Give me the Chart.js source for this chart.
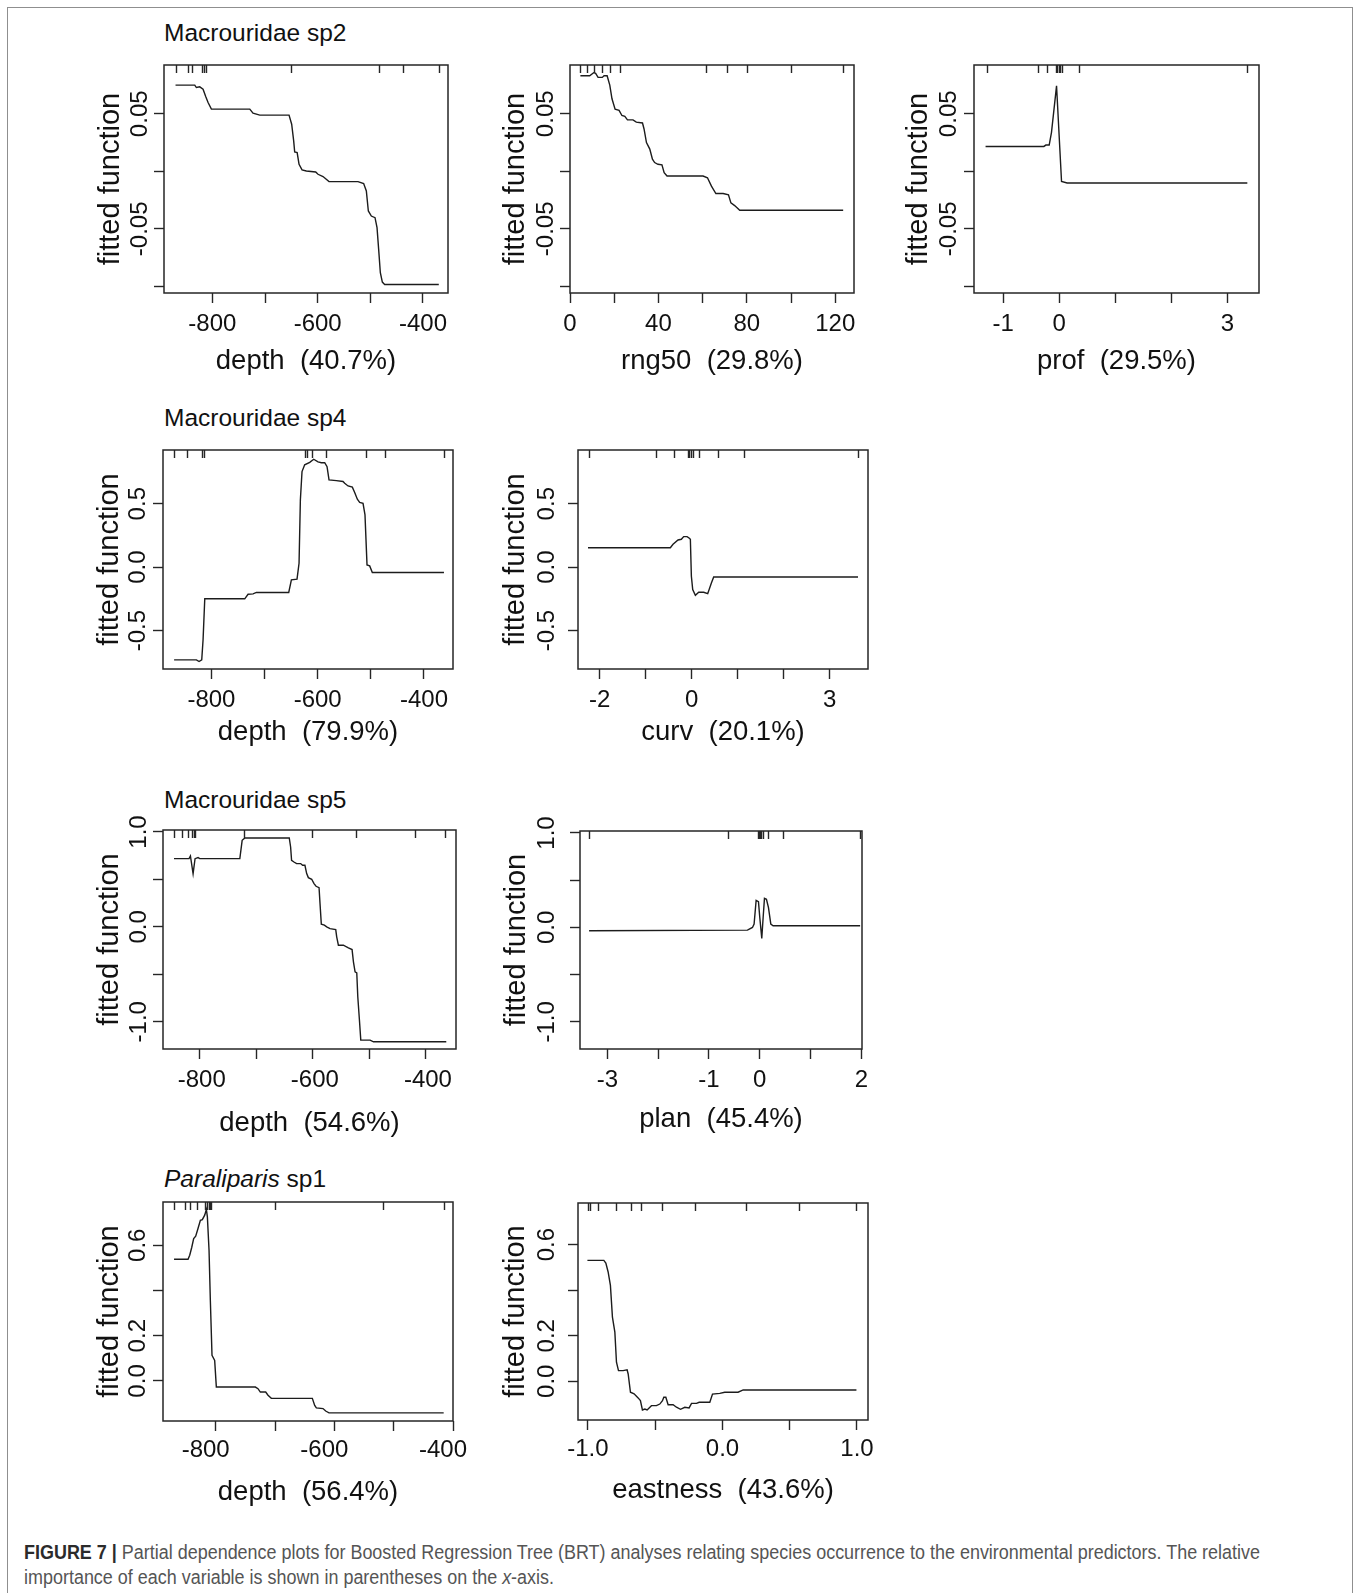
<!DOCTYPE html>
<html>
<head>
<meta charset="utf-8">
<script src="https://cdn.jsdelivr.net/npm/chart.js@4.4.1/dist/chart.umd.min.js"></script>
<style>
  html, body { margin: 0; padding: 0; background: #fff; }
  body { width: 1360px; height: 1593px; position: relative; overflow: hidden;
         font-family: 'Liberation Sans', Arial, Helvetica, sans-serif; }
  canvas { position: absolute; left: 0; top: 0; }
  .frame { position: absolute; left: 7px; top: 7px; width: 1346px; height: 1620px;
           border: 1.5px solid #8f8f8f; box-sizing: border-box; }
  .ptitle { position: absolute; font-size: 24.5px; line-height: 24px; color: #111; white-space: pre; }
  .cap { position: absolute; left: 24px; font-size: 20px; line-height: 20px; color: #555;
         white-space: pre; transform-origin: 0 0; }
  .cap b { color: #2b2b2b; }
</style>
</head>
<body>
<div class="frame"></div>
<div class="ptitle" style="left:164px;top:21px">Macrouridae sp2</div>
<div class="ptitle" style="left:164px;top:406px">Macrouridae sp4</div>
<div class="ptitle" style="left:164px;top:788px">Macrouridae sp5</div>
<div class="ptitle" style="left:164px;top:1167px"><i>Paraliparis</i> sp1</div>
<div class="cap" id="cap1" style="top:1542px"><b>FIGURE 7 |</b> Partial dependence plots for Boosted Regression Tree (BRT) analyses relating species occurrence to the environmental predictors. The relative</div>
<div class="cap" id="cap2" style="top:1567px">importance of each variable is shown in parentheses on the <i>x</i>-axis.</div>

<script>
// ---------- fitted partial-dependence curves ----------
const sp2DepthX = [-870,-833.5,-830.4,-824,-817.7,-812.7,-808.2,-801.9,-729,-722.8,-710,-654.4,-649.4,-645.6,-643.7,-639,-635.4,-629.7,-621.5,-603.8,-599.4,-589.9,-578.5,-523.4,-512.7,-507.6,-503.8,-498.1,-491.1,-487.3,-484.2,-481,-477.2,-472.8,-370];
const sp2DepthY = [0.0749,0.0749,0.0728,0.0734,0.0714,0.065,0.0598,0.054,0.054,0.0505,0.0488,0.0488,0.0409,0.0264,0.0168,0.0163,0.0061,0.0012,0.0003,-0.0006,-0.0026,-0.0046,-0.009,-0.009,-0.0107,-0.0171,-0.0345,-0.0389,-0.0403,-0.049,-0.0679,-0.0882,-0.0963,-0.0984,-0.0984];
const sp2DepthRug = [-870,-847,-838,-820,-816,-813,-651,-484,-438,-370];

const sp2Rng50X = [4.7,8.9,10.7,11.6,12.7,14.6,15.4,16.8,18.0,19.0,20.4,22.2,23.5,24.8,26.0,28.5,30.0,32.8,33.5,34.6,36.1,37.3,38.3,39.8,41.6,42.6,43.9,60.2,62.2,64.0,66.0,69.3,71.7,72.8,74.5,76.8,123.6];
const sp2Rng50Y = [0.083,0.083,0.0857,0.0851,0.0816,0.0816,0.083,0.083,0.0749,0.063,0.054,0.053,0.0485,0.0477,0.0447,0.0447,0.0427,0.042,0.0368,0.025,0.0193,0.0105,0.0076,0.0061,0.0056,-0.0012,-0.0041,-0.0041,-0.0056,-0.0129,-0.0193,-0.0193,-0.0205,-0.0275,-0.0298,-0.0339,-0.0339];
const sp2Rng50Rug = [4.7,7.5,11,14.6,18,22.5,61.5,71,80,100,123.6];

const sp2ProfX = [-1.312,-0.273,-0.237,-0.178,-0.137,-0.047,0.042,0.142,3.353];
const sp2ProfY = [0.0216,0.0216,0.0228,0.0228,0.0339,0.0743,-0.0088,-0.0102,-0.0102];
const sp2ProfRug = [-1.29,-0.37,-0.21,-0.065,-0.03,-0.012,0.012,0.042,0.35,3.35];

const sp4DepthX = [-870.2,-828.2,-823.2,-818.2,-815.7,-812.5,-737.3,-731,-721.6,-715.4,-654.5,-649.5,-638.9,-635.1,-632.6,-629.5,-624.5,-615,-607.5,-599.4,-593.1,-586.8,-582.4,-578.7,-564.9,-552.4,-549.2,-542.9,-534.8,-530.4,-525.4,-521,-514.7,-511,-507.2,-502.2,-497.2,-362.4];
const sp4DepthY = [-0.730,-0.730,-0.743,-0.730,-0.572,-0.249,-0.249,-0.213,-0.21,-0.199,-0.199,-0.1,-0.094,0.031,0.530,0.753,0.806,0.826,0.850,0.829,0.823,0.823,0.792,0.687,0.682,0.675,0.661,0.640,0.630,0.588,0.535,0.511,0.503,0.412,0.018,0.010,-0.042,-0.042];
const sp4DepthRug = [-870,-846,-817.6,-814,-624.5,-621,-610,-585,-508.5,-474,-362.4];

const sp4CurvX = [-2.254,-0.464,-0.406,-0.297,-0.225,-0.174,-0.101,-0.058,-0.029,-0.007,0.022,0.08,0.152,0.261,0.348,0.428,0.478,3.616];
const sp4CurvY = [0.153,0.153,0.180,0.214,0.220,0.241,0.241,0.230,0.220,-0.071,-0.177,-0.222,-0.198,-0.198,-0.209,-0.124,-0.077,-0.077];
const sp4CurvRug = [-2.24,-0.77,-0.38,-0.087,-0.05,-0.014,0.022,0.152,0.572,1.13,3.616];

const sp5DepthX = [-845.5,-818.9,-816.5,-811.8,-808.3,-803,-800,-729.1,-725,-720.2,-641.7,-639.3,-637.6,-633.4,-628.7,-621.6,-618.1,-614,-610.9,-607.9,-602,-597.9,-594.3,-589,-587.3,-585,-579.6,-575.5,-569.6,-559.5,-557.8,-554.8,-546,-537.1,-530.6,-528.2,-525.3,-522.3,-520.5,-517.6,-515.2,-498.7,-492.7,-364];
const sp5DepthY = [0.719,0.719,0.747,0.561,0.719,0.730,0.719,0.719,0.912,0.937,0.937,0.842,0.702,0.684,0.667,0.667,0.649,0.649,0.561,0.519,0.502,0.456,0.428,0.414,0.246,0.028,0.018,0.0,-0.018,-0.028,-0.105,-0.193,-0.193,-0.221,-0.239,-0.368,-0.474,-0.484,-0.737,-0.982,-1.193,-1.193,-1.211,-1.211];
const sp5DepthRug = [-845.5,-831,-821.5,-813,-810.6,-808.3,-722,-601,-523.5,-419,-366];

const sp5PlanX = [-3.36,-0.243,-0.144,-0.112,-0.072,-0.026,0.0,0.039,0.066,0.092,0.131,0.171,0.217,0.262,1.975];
const sp5PlanY = [-0.035,-0.028,0.0,0.035,0.287,0.273,0.105,-0.116,0.105,0.308,0.298,0.21,0.035,0.018,0.018];
const sp5PlanRug = [-3.36,-0.617,-0.026,-0.013,0.0,0.013,0.026,0.066,0.171,0.459,1.975];

const parDepthX = [-870.2,-846.6,-843.8,-840.4,-837.1,-833.7,-829.8,-825.8,-822.5,-818.5,-815.7,-814,-811.2,-809,-806.2,-801.7,-798.9,-733.1,-728.7,-724.7,-715.7,-711.8,-706.2,-637.1,-633.1,-630.3,-619.1,-614.6,-609,-415.7];
const parDepthY = [0.538,0.538,0.556,0.590,0.629,0.640,0.674,0.710,0.713,0.733,0.758,0.725,0.578,0.357,0.113,0.091,-0.027,-0.027,-0.034,-0.049,-0.049,-0.063,-0.077,-0.077,-0.108,-0.119,-0.122,-0.133,-0.141,-0.141];
const parDepthRug = [-870,-851,-843.8,-831.5,-818.5,-814,-812,-810,-808.4,-700.6,-518,-416];

const parEastX = [-1.004,-0.882,-0.867,-0.850,-0.833,-0.818,-0.800,-0.788,-0.773,-0.739,-0.709,-0.701,-0.684,-0.657,-0.627,-0.610,-0.595,-0.577,-0.560,-0.528,-0.491,-0.466,-0.446,-0.436,-0.421,-0.404,-0.367,-0.342,-0.312,-0.280,-0.248,-0.230,-0.193,-0.173,-0.094,-0.074,-0.020,0.017,0.116,0.154,0.996];
const parEastY = [0.531,0.531,0.519,0.480,0.421,0.282,0.216,0.084,0.047,0.047,0.050,0.032,-0.048,-0.055,-0.073,-0.085,-0.126,-0.122,-0.126,-0.107,-0.107,-0.100,-0.085,-0.070,-0.070,-0.103,-0.103,-0.114,-0.123,-0.114,-0.117,-0.097,-0.097,-0.092,-0.092,-0.056,-0.053,-0.048,-0.048,-0.038,-0.038];
const parEastRug = [-1.0,-0.988,-0.924,-0.793,-0.677,-0.602,-0.453,-0.206,0.173,0.570,0.996];

// ---------- axis ticks and their labels ----------
const depthTicks = [-800,-700,-600,-500,-400];
const depthLabels = ['-800','','-600','','-400'];
const rng50Ticks = [0,20,40,60,80,100,120];
const rng50Labels = ['0','','40','','80','','120'];
const profTicks = [-1,0,1,2,3];
const profLabels = ['-1','0','','','3'];
const curvTicks = [-2,-1,0,1,2,3];
const curvLabels = ['-2','','0','','','3'];
const planTicks = [-3,-2,-1,0,1,2];
const planLabels = ['-3','','-1','0','','2'];
const eastTicks = [-1,-0.5,0,0.5,1];
const eastLabels = ['-1.0','','0.0','','1.0'];

const ySmallTicks = [0.05,0,-0.05,-0.1];
const ySmallLabels = ['0.05','','-0.05',''];
const yHalfTicks = [0.5,0,-0.5];
const yHalfLabels = ['0.5','0.0','-0.5'];
const yOneTicks = [1,0.5,0,-0.5,-1];
const yOneLabels = ['1.0','','0.0','','-1.0'];
const yPointTicks = [0.6,0.4,0.2,0.0];
const yPointLabels = ['0.6','','0.2','0.0'];

// ---------- panel layout ----------
const FONT = "'Liberation Sans', Arial, Helvetica, sans-serif";
const PAGE_W = 1360, PAGE_H = 1593;
const YW = 100, XH = 100;            // reserved widths of the y / x scale boxes
const TICK_PX = 24, XTITLE_PX = 27.5, YTITLE_PX = 29;

// tOff: baseline of the x title below the frame; lblPad: gap before x tick labels;
// yOff / ytOff: distance of y tick labels / y title from the frame
const panels = [
  { box:[164,65,448,293],   xr:[-891.9,-352.5], yr:[-0.1058,0.0924], x:sp2DepthX, y:sp2DepthY, rug:sp2DepthRug,
    xt:depthTicks, xl:depthLabels, yt:ySmallTicks, yl:ySmallLabels, title:'depth  (40.7%)',
    tOff:78, lblPad:7, lblShift:0, yOff:24, ytOff:53 },
  { box:[570,65,854,293],   xr:[0,128.5], yr:[-0.1058,0.0924], x:sp2Rng50X, y:sp2Rng50Y, rug:sp2Rng50Rug,
    xt:rng50Ticks, xl:rng50Labels, yt:ySmallTicks, yl:ySmallLabels, title:'rng50  (29.8%)',
    tOff:78, lblPad:7, lblShift:0, yOff:24, ytOff:54 },
  { box:[974,65,1259,293],  xr:[-1.518,3.561], yr:[-0.1058,0.0924], x:sp2ProfX, y:sp2ProfY, rug:sp2ProfRug,
    xt:profTicks, xl:profLabels, yt:ySmallTicks, yl:ySmallLabels, title:'prof  (29.5%)',
    tOff:78, lblPad:7, lblShift:0, yOff:25, ytOff:55 },
  { box:[163,450,453,669],  xr:[-891.1,-345.4], yr:[-0.802,0.923], x:sp4DepthX, y:sp4DepthY, rug:sp4DepthRug,
    xt:depthTicks, xl:depthLabels, yt:yHalfTicks, yl:yHalfLabels, title:'depth  (79.9%)',
    tOff:73, lblPad:7, lblShift:0, yOff:25, ytOff:53 },
  { box:[578,450,868,669],  xr:[-2.472,3.833], yr:[-0.802,0.923], x:sp4CurvX, y:sp4CurvY, rug:sp4CurvRug,
    xt:curvTicks, xl:curvLabels, yt:yHalfTicks, yl:yHalfLabels, title:'curv  (20.1%)',
    tOff:73, lblPad:7, lblShift:0, yOff:31, ytOff:62 },
  { box:[163,830,456,1049], xr:[-865,-346.8], yr:[-1.287,1.021], x:sp5DepthX, y:sp5DepthY, rug:sp5DepthRug,
    xt:depthTicks, xl:depthLabels, yt:yOneTicks, yl:yOneLabels, title:'depth  (54.6%)',
    tOff:84, lblPad:7, lblShift:2, yOff:24, ytOff:53 },
  { box:[580,831,862,1049], xr:[-3.539,2.012], yr:[-1.287,1.021], x:sp5PlanX, y:sp5PlanY, rug:sp5PlanRug,
    xt:planTicks, xl:planLabels, yt:yOneTicks, yl:yOneLabels, title:'plan  (45.4%)',
    tOff:80, lblPad:7, lblShift:0, yOff:33, ytOff:63 },
  { box:[163,1202,453,1421], xr:[-888.8,-400], yr:[-0.177,0.791], x:parDepthX, y:parDepthY, rug:parDepthRug,
    xt:depthTicks, xl:depthLabels, yt:yPointTicks, yl:yPointLabels, title:'depth  (56.4%)',
    tOff:81, lblPad:5, lblShift:-10, yOff:25, ytOff:53 },
  { box:[578,1203,868,1420], xr:[-1.074,1.082], yr:[-0.170,0.783], x:parEastX, y:parEastY, rug:parEastRug,
    xt:eastTicks, xl:eastLabels, yt:yPointTicks, yl:yPointLabels, title:'eastness  (43.6%)',
    tOff:80, lblPad:5, lblShift:0, yOff:31, ytOff:62 }
];

// Plot frame, rug marks along the top edge and upright y tick labels
const framePlugin = {
  id: 'frameRug',
  afterDraw(chart, args, opts) {
    const { ctx, chartArea: a, scales } = chart;
    const p = opts.panel;
    ctx.save();
    ctx.strokeStyle = '#262626';
    ctx.lineWidth = 1.4;
    ctx.beginPath();
    for (const v of p.rug) {
      const px = Math.round(scales.x.getPixelForValue(v)) + 0.5;
      ctx.moveTo(px, a.top);
      ctx.lineTo(px, a.top + 8);
    }
    ctx.stroke();
    ctx.lineWidth = 1.5;
    ctx.strokeRect(a.left, a.top, a.right - a.left, a.bottom - a.top);

    ctx.fillStyle = '#111';
    ctx.font = TICK_PX + 'px ' + FONT;
    ctx.textAlign = 'center';
    ctx.textBaseline = 'middle';
    p.yt.forEach((v, i) => {
      if (!p.yl[i]) return;
      const py = scales.y.getPixelForValue(v);
      ctx.save();
      ctx.translate(a.left - p.yOff, py);
      ctx.rotate(-Math.PI / 2);
      ctx.fillText(p.yl[i], 0, 0);
      ctx.restore();
    });
    ctx.restore();
  }
};

function makePanel(p) {
  const cv = document.createElement('canvas');
  cv.width = PAGE_W; cv.height = PAGE_H;
  document.body.appendChild(cv);
  const [L, T, R, B] = p.box;
  const tickFont = { family: FONT, size: TICK_PX };
  new Chart(cv, {
    type: 'scatter',
    data: {
      datasets: [{
        data: p.x.map((v, i) => ({ x: v, y: p.y[i] })),
        showLine: true, borderColor: '#1c1c1c', borderWidth: 1.4,
        pointRadius: 0, pointHoverRadius: 0, tension: 0, fill: false
      }]
    },
    options: {
      responsive: false, animation: false, devicePixelRatio: 1, events: [],
      layout: { padding: { left: L - YW, top: T, right: PAGE_W - R, bottom: PAGE_H - B - XH } },
      plugins: { legend: { display: false }, tooltip: { enabled: false }, frameRug: { panel: p } },
      scales: {
        x: {
          type: 'linear', position: 'bottom', min: p.xr[0], max: p.xr[1],
          afterBuildTicks: s => { s.ticks = p.xt.map(v => ({ value: v })); },
          afterFit: s => { s.height = XH; },
          ticks: { autoSkip: false, maxRotation: 0, minRotation: 0, padding: p.lblPad, labelOffset: p.lblShift,
                   font: tickFont, color: '#111', callback: (v, i) => p.xl[i] },
          grid: { drawOnChartArea: false, drawTicks: true, tickLength: 10, tickWidth: 1.4, tickColor: '#262626' },
          border: { display: false },
          title: { display: true, text: p.title, font: { family: FONT, size: XTITLE_PX }, color: '#111',
                   padding: { top: 0, bottom: XH - 0.6 * XTITLE_PX - p.tOff + 0.3465 * XTITLE_PX } }
        },
        y: {
          type: 'linear', position: 'left', min: p.yr[0], max: p.yr[1],
          afterBuildTicks: s => { s.ticks = p.yt.map(v => ({ value: v })); },
          afterFit: s => { s.width = YW; },
          ticks: { display: false, autoSkip: false },
          grid: { drawOnChartArea: false, drawTicks: true, tickLength: 10, tickWidth: 1.4, tickColor: '#262626' },
          border: { display: false },
          title: { display: true, text: 'fitted function', font: { family: FONT, size: YTITLE_PX }, color: '#111',
                   padding: { top: YW - 0.6 * YTITLE_PX - p.ytOff, bottom: 0 } }
        }
      }
    },
    plugins: [framePlugin]
  });
}

panels.forEach(makePanel);

// caption set in a narrow measure, as in the printed figure
const c1 = document.getElementById('cap1');
const c2 = document.getElementById('cap2');
const k = 1236 / c1.getBoundingClientRect().width;
c1.style.transform = 'scaleX(' + k + ')';
c2.style.transform = 'scaleX(' + k + ')';
</script>
</body>
</html>
